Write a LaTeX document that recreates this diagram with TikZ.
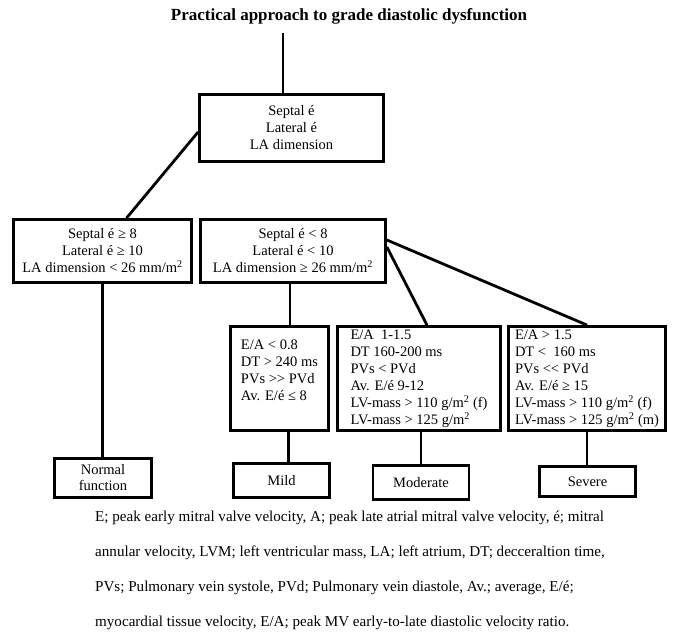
\documentclass[tikz,border=0pt]{standalone}
\usepackage{fontspec}
\setmainfont{Liberation Serif}
\tikzset{
    box/.style={draw, line width=2.8pt, align=center, inner sep=2pt,
        font=\fontsize{14.5}{17}\selectfont},
    critbox/.style={box, align=left, minimum height=104pt},
    gradebox/.style={box, minimum width=96pt, minimum height=34pt},
    link/.style={line width=2.8pt}
}
\begin{document}
\begin{tikzpicture}[x=1pt, y=-1pt]
    \useasboundingbox (0,0) rectangle (685,641);
    % title
    \node[font=\bfseries\fontsize{17}{20}\selectfont] (title) at (349,16) {Practical approach to grade diastolic dysfunction};
    \coordinate (top) at (283,33);

    % first step
    \node[box, minimum width=184pt, minimum height=67pt] (start) at (291.5,128) {Septal é\\ Lateral é\\ LA dimension};

    % normal / abnormal
    \node[box, minimum width=178pt, minimum height=63pt] (normcrit) at (102.5,251) {Septal é ≥ 8\\ Lateral é ≥ 10\\ LA dimension < 26 mm/m\textsuperscript{2}};
    \node[box, minimum width=185pt, minimum height=63pt] (abncrit) at (293,251) {Septal é < 8\\ Lateral é < 10\\ LA dimension ≥ 26 mm/m\textsuperscript{2}};

    % grade criteria
    \node[critbox, minimum width=98pt] (mildcrit) at (279.5,378.5) {E/A < 0.8\\ DT > 240 ms\\ PVs >{}> PVd\\ Av. E/é ≤ 8\\ \mbox{}};
    \node[critbox, minimum width=163pt] (modcrit) at (419,378.5) {E/A\ \ 1-1.5\\ DT 160-200 ms\\ PVs < PVd\\ Av. E/é 9-12\\ LV-mass > 110 g/m\textsuperscript{2} (f)\\ LV-mass > 125 g/m\textsuperscript{2}};
    \node[critbox, minimum width=157pt] (sevcrit) at (587,378.5) {E/A > 1.5\\ DT <\ \ 160 ms\\ PVs <{}< PVd\\ Av. E/é ≥ 15\\ LV-mass > 110 g/m\textsuperscript{2} (f)\\ LV-mass > 125 g/m\textsuperscript{2} (m)};

    % grades
    \node[box, minimum width=97pt, minimum height=39pt, font=\fontsize{14.5}{16}\selectfont] (normal) at (103,478) {Normal\\ function};
    \node[gradebox] (mild) at (281.5,480.5) {Mild};
    \node[gradebox] (moderate) at (421,482.5) {Moderate};
    \node[gradebox, minimum height=30pt] (severe) at (587.5,481.5) {Severe};

    % connectors
    \draw[link] (top) -- (top |- start.north);
    \draw[link] ([yshift=-4pt]start.west) -- ([xshift=24pt]normcrit.north);
    \draw[link] (normcrit.south) -- (normcrit.south |- normal.north);
    \draw[link] ([xshift=-3pt]abncrit.south) -- ([xshift=-3pt]abncrit.south |- mildcrit.north);
    \draw[link] ([yshift=4pt]abncrit.east) -- ([xshift=8pt]modcrit.north);
    \draw[link] ([yshift=11pt]abncrit.east) -- (sevcrit.north);
    \draw[link] ([xshift=9pt]mildcrit.south) -- ([xshift=9pt]mildcrit.south |- mild.north);
    \draw[link] ([xshift=2pt]modcrit.south) -- ([xshift=2pt]modcrit.south |- moderate.north);
    \draw[link] (sevcrit.south) -- (sevcrit.south |- severe.north);

    % abbreviations
    \node[anchor=north west, align=left, inner sep=0pt, font=\fontsize{15.1}{34.8}\selectfont] (legend) at (95,511) {E; peak early mitral valve velocity, A; peak late atrial mitral valve velocity, é; mitral\\ annular velocity, LVM; left ventricular mass, LA; left atrium, DT; decceraltion time,\\ PVs; Pulmonary vein systole, PVd; Pulmonary vein diastole, Av.; average, E/é;\\ myocardial tissue velocity, E/A; peak MV early-to-late diastolic velocity ratio.};
\end{tikzpicture}
\end{document}
